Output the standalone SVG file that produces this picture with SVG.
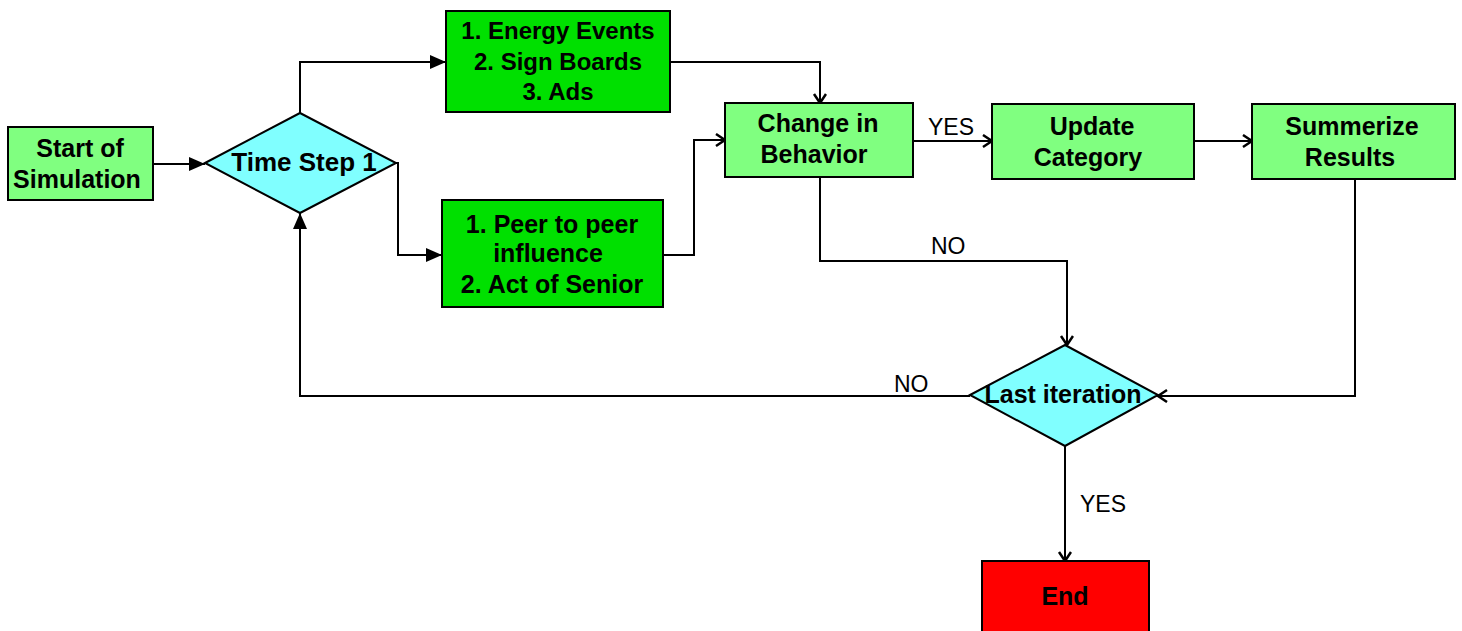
<svg xmlns="http://www.w3.org/2000/svg" width="1462" height="631" viewBox="0 0 1462 631">
<style>
.box{stroke:#000;stroke-width:2}
.lg{fill:#80ff80}
.dg{fill:#00e000}
.cy{fill:#80ffff}
.rd{fill:#ff0000}
.t{font-family:"Liberation Sans",Arial,sans-serif;font-weight:bold;font-size:25px;text-anchor:middle;fill:#000}
.lbl{font-family:"Liberation Sans",Arial,sans-serif;font-size:23px;fill:#000}
.c{fill:none;stroke:#000;stroke-width:2}
</style>
<defs>
<marker id="fa" markerUnits="userSpaceOnUse" markerWidth="18" markerHeight="16" refX="16" refY="7" orient="auto"><path d="M0,0 L16,7 L0,14 z" fill="#000"/></marker>
<marker id="oa" markerUnits="userSpaceOnUse" markerWidth="14" markerHeight="16" refX="10" refY="7" orient="auto"><path d="M1,1 L10,7 L1,13" fill="none" stroke="#000" stroke-width="2.5"/></marker>
</defs>
<g id="connectors">
<path class="c" d="M153,164 L205,164" marker-end="url(#fa)"/>
<path class="c" d="M300,113 L300,62 L446,62" marker-end="url(#fa)"/>
<path class="c" d="M396,163 L398,163 L398,255 L442,255" marker-end="url(#fa)"/>
<path class="c" d="M670,62 L820,62 L820,103" marker-end="url(#oa)"/>
<path class="c" d="M663,255 L694,255 L694,140 L725,140" marker-end="url(#oa)"/>
<path class="c" d="M913,141 L992,141" marker-end="url(#oa)"/>
<path class="c" d="M1194,141 L1252,141" marker-end="url(#oa)"/>
<path class="c" d="M820,177 L820,261 L1067,261 L1067,345" marker-end="url(#oa)"/>
<path class="c" d="M1355,179 L1355,396 L1158,396" marker-end="url(#oa)"/>
<path class="c" d="M970,396 L300,396 L300,213" marker-end="url(#fa)"/>
<path class="c" d="M1065,446 L1065,561" marker-end="url(#oa)"/>
<text class="lbl" x="928" y="135">YES</text>
<text class="lbl" x="931" y="254">NO</text>
<text class="lbl" x="894" y="392">NO</text>
<text class="lbl" x="1080" y="512">YES</text>
</g>
<g id="start">
<rect class="box lg" x="8" y="127" width="145" height="73"/>
<text class="t" x="80" y="157">Start of</text>
<text class="t" x="77" y="188">Simulation</text>
</g>
<g id="timestep">
<polygon class="box cy" points="205,163 300,113 396,163 300,213"/>
<text class="t" x="304" y="171" style="font-size:26px">Time Step 1</text>
</g>
<g id="energy">
<rect class="box dg" x="446" y="11" width="224" height="101"/>
<text class="t" x="558" y="39" style="font-size:24px">1. Energy Events</text>
<text class="t" x="558" y="70" style="font-size:24px">2. Sign Boards</text>
<text class="t" x="558" y="100" style="font-size:24px">3. Ads</text>
</g>
<g id="peer">
<rect class="box dg" x="442" y="200" width="221" height="107"/>
<text class="t" x="552" y="233">1. Peer to peer</text>
<text class="t" x="548" y="262">influence</text>
<text class="t" x="552" y="293">2. Act of Senior</text>
</g>
<g id="change">
<rect class="box lg" x="725" y="103" width="188" height="74"/>
<text class="t" x="818" y="132">Change in</text>
<text class="t" x="814" y="163">Behavior</text>
</g>
<g id="update">
<rect class="box lg" x="992" y="104" width="202" height="75"/>
<text class="t" x="1092" y="135">Update</text>
<text class="t" x="1088" y="166">Category</text>
</g>
<g id="summarize">
<rect class="box lg" x="1252" y="104" width="203" height="75"/>
<text class="t" x="1352" y="135">Summerize</text>
<text class="t" x="1350" y="166">Results</text>
</g>
<g id="last">
<polygon class="box cy" points="970,395 1065,345 1158,395 1065,446"/>
<text class="t" x="1063" y="403">Last iteration</text>
</g>
<g id="end">
<rect class="box rd" x="982" y="561" width="167" height="75"/>
<text class="t" x="1065" y="605">End</text>
</g>
</svg>
